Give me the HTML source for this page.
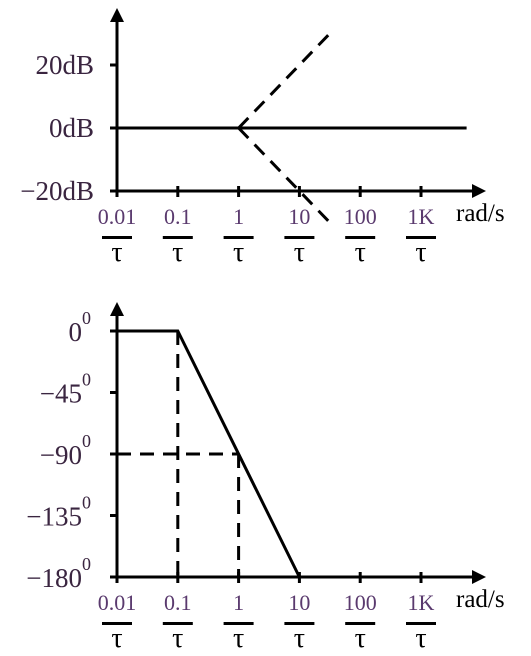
<!DOCTYPE html>
<html><head><meta charset="utf-8"><style>
body{margin:0;background:#fff;}
svg{display:block;font-family:"Liberation Serif",serif;}
</style></head><body>
<svg id="c" width="531" height="656" viewBox="0 0 531 656"></svg>
<script>
const decadeLabels=["0.01","0.1","1","10","100","1K"];
const magTicks=[20,0,-20];
const magTickLabels=["20dB","0dB","\u221220dB"];
const magFlat=[[-2,0],[3.75,0]];
const magUp=[[0,0],[1.5,30]];
const magDown=[[0,0],[1.5,-30]];
const phaseTicks=[0,-45,-90,-135,-180];
const phaseTickLabels=["0","\u221245","\u221290","\u2212135","\u2212180"];
const phaseLine=[[-2,0],[-1,0],[1,-180]];
const phaseDashV=[[-1,0],[-1,-180]];
const phaseDashV2=[[0,-90],[0,-180]];
const phaseDashH=[[-2,-90],[0,-90]];

const svg=document.getElementById('c');
const NS="http://www.w3.org/2000/svg";
function mk(t,a,p){const e=document.createElementNS(NS,t);for(const k in a)e.setAttribute(k,a[k]);(p||svg).appendChild(e);return e;}
const X=d=>117+(d+2)*60.8;
function magY(v){return 128-v*63/20;}
function phY(v){return 331-v*61.5/45;}
function poly(pts,fy,dash,name){
  const e=mk('polyline',{points:pts.map(p=>X(p[0])+','+fy(p[1])).join(' '),fill:'none',stroke:'#000','stroke-width':3,'stroke-dasharray':dash||'none'});
  
  
  return e;
}
function axes(top,y0,name){
  const g=mk('g',{});
  
  
  mk('line',{x1:117,y1:top+8,x2:117,y2:y0,stroke:'#000','stroke-width':3},g);
  mk('polygon',{points:`110,${top+14} 117,${top} 124,${top+14}`,fill:'#000'},g);
  mk('line',{x1:117,y1:y0,x2:476,y2:y0,stroke:'#000','stroke-width':3},g);
  mk('polygon',{points:`472,${y0-7} 486,${y0} 472,${y0+7}`,fill:'#000'},g);
  decadeLabels.forEach((l,i)=>{
    const x=X(i-2);
    mk('line',{x1:x,y1:y0-5,x2:x,y2:y0+6,stroke:'#000','stroke-width':3},g);
    const t=mk('text',{x:x,y:y0+33,'text-anchor':'middle','font-size':22,fill:'#5a3a6e'},g);t.textContent=l;
    
    
    mk('rect',{x:x-15,y:y0+45,width:30,height:3,fill:'#000'},g);
    const tau=mk('text',{x:x,y:y0+70,'text-anchor':'middle','font-size':28,fill:'#000'},g);tau.textContent='\u03C4';
  });
  const r=mk('text',{x:456,y:y0+30,'font-size':25,fill:'#000'},g);r.textContent='rad/s';
  
  
}
// magnitude
axes(8,191,'magnitude-axes');
magTicks.forEach((v,i)=>{
  const y=magY(v);
  mk('line',{x1:110,y1:y,x2:117,y2:y,stroke:'#000','stroke-width':3});
  const t=mk('text',{x:94,y:y+9,'text-anchor':'end','font-size':27,fill:'#3a2540'});t.textContent=magTickLabels[i];
  
  
});
poly(magFlat,magY,null,'magnitude-flat-line');
poly(magUp,magY,'14 9','magnitude-rising-asymptote');
poly(magDown,magY,'14 9','magnitude-falling-asymptote');
// phase
axes(302,577,'phase-axes');
phaseTicks.forEach((v,i)=>{
  const y=phY(v);
  mk('line',{x1:110,y1:y,x2:117,y2:y,stroke:'#000','stroke-width':3});
  const t=mk('text',{x:82,y:y+10,'text-anchor':'end','font-size':27,fill:'#3a2540'});t.textContent=phaseTickLabels[i];
  
  
  const s=mk('text',{x:82,y:y-7,'font-size':18,fill:'#3a2540'});s.textContent='0';
});
poly(phaseDashV,phY,'14 9','phase-guide-0.1');
poly(phaseDashV2,phY,'14 9','phase-guide-1');
poly(phaseDashH,phY,'14 9','phase-guide-minus90');
poly(phaseLine,phY,null,'phase-line');
</script>
</body></html>
